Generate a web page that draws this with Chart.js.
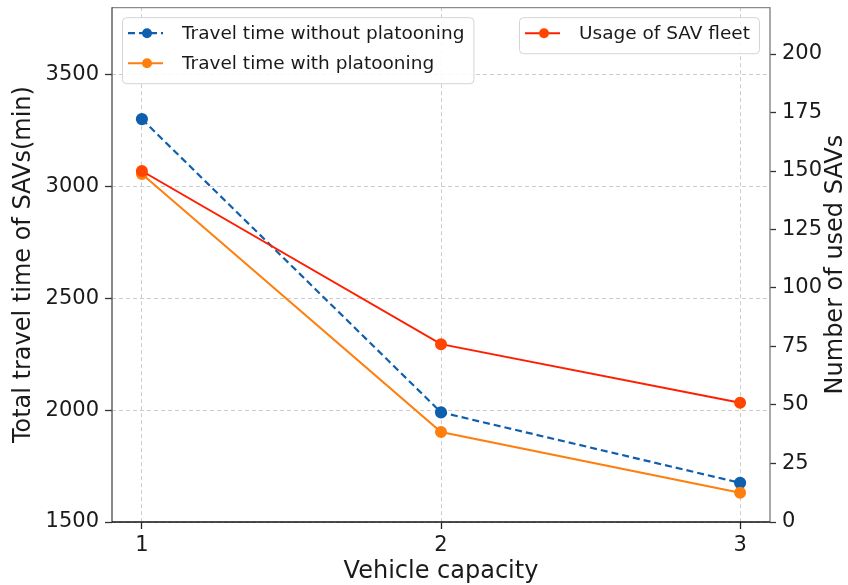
<!DOCTYPE html>
<html>
<head>
<meta charset="utf-8">
<script src="https://cdn.jsdelivr.net/npm/chart.js@4.4.1/dist/chart.umd.min.js"></script>
<style>
  html, body { margin: 0; padding: 0; background: #ffffff; }
  #wrap { width: 848px; height: 585px; }
</style>
</head>
<body>
<div id="wrap"><canvas id="chart" width="848" height="585"></canvas></div>
<script>
// Vehicle capacity on the x axis
const capacities = [1, 2, 3];
// Total travel time of SAVs (min), left axis
const timeWithoutPlatooning = [3300, 1990, 1675];
const timeWithPlatooning = [3055, 1902, 1631];
// Number of used SAVs, right axis
const fleetUsage = [150, 76, 51];
// Tick labels
const leftTicks = [1500, 2000, 2500, 3000, 3500];
const rightTicks = [0, 25, 50, 75, 100, 125, 150, 175, 200];

const FONT = "'DejaVu Sans', 'Liberation Sans', sans-serif";
const TEXT = '#1a1a1a';
const RIGHT_TITLE = 'Number of used SAVs';

const pts = (ys) => capacities.map((x, i) => ({ x, y: ys[i] }));

// Axes frame, the right-hand axis title (read bottom to top) and two framed legends
const framePlugin = {
  id: 'frameAndLegends',
  afterDraw(chart) {
    const { ctx, chartArea: a } = chart;
    ctx.save();
    // spines
    ctx.lineWidth = 1.3;
    ctx.strokeStyle = '#8a8a8a';
    ctx.beginPath(); ctx.moveTo(a.left, a.top + 0.5); ctx.lineTo(a.right, a.top + 0.5); ctx.stroke();
    ctx.strokeStyle = '#7a7a7a';
    ctx.beginPath(); ctx.moveTo(a.right, a.top); ctx.lineTo(a.right, a.bottom); ctx.stroke();
    ctx.strokeStyle = '#4a4a4a';
    ctx.beginPath(); ctx.moveTo(a.left, a.top); ctx.lineTo(a.left, a.bottom); ctx.stroke();
    ctx.strokeStyle = '#111111';
    ctx.lineWidth = 1.6;
    ctx.beginPath(); ctx.moveTo(a.left, a.bottom); ctx.lineTo(a.right, a.bottom); ctx.stroke();

    // right axis title
    ctx.save();
    ctx.translate(836, (a.top + a.bottom) / 2);
    ctx.rotate(-Math.PI / 2);
    ctx.font = `24px ${FONT}`;
    ctx.fillStyle = TEXT;
    ctx.textAlign = 'center';
    ctx.textBaseline = 'middle';
    ctx.fillText(RIGHT_TITLE, 0, 0);
    ctx.restore();

    const byLabel = (l) => chart.data.datasets.find(d => d.label === l);
    const groups = [
      { items: ['Travel time without platooning', 'Travel time with platooning'].map(byLabel), anchor: 'left' },
      { items: ['Usage of SAV fleet'].map(byLabel), anchor: 'right' }
    ];
    ctx.font = `18.5px ${FONT}`;
    const rowH = 30, padTop = 16, textOff = 60, padRight = 9;
    groups.forEach(g => {
      const textW = Math.max(...g.items.map(d => ctx.measureText(d.label).width));
      const w = textOff + textW + padRight;
      const h = g.items.length * rowH + 6;
      const x = g.anchor === 'left' ? a.left + 10 : a.right - 11 - w;
      const y = a.top + 10;
      ctx.beginPath();
      ctx.roundRect(x + 0.5, y + 0.5, w, h, 4);
      ctx.fillStyle = 'rgba(255,255,255,0.85)';
      ctx.fill();
      ctx.strokeStyle = '#d4d4d4';
      ctx.lineWidth = 1;
      ctx.stroke();
      g.items.forEach((d, i) => {
        const cy = y + padTop + i * rowH;
        ctx.strokeStyle = d.borderColor;
        ctx.lineWidth = d.borderWidth;
        ctx.setLineDash(d.borderDash || []);
        ctx.beginPath();
        ctx.moveTo(x + 6, cy); ctx.lineTo(x + 41, cy);
        ctx.stroke();
        ctx.setLineDash([]);
        ctx.beginPath();
        ctx.arc(x + 25, cy, d.pointRadius, 0, Math.PI * 2);
        ctx.fillStyle = d.pointBackgroundColor;
        ctx.fill();
        ctx.fillStyle = TEXT;
        ctx.textBaseline = 'middle';
        ctx.textAlign = 'left';
        ctx.fillText(d.label, x + textOff, cy + 1);
      });
    });
    ctx.restore();
  }
};

const tickFont = { family: FONT, size: 21 };
const titleFont = { family: FONT, size: 24, lineHeight: 1 };

new Chart(document.getElementById('chart'), {
  type: 'line',
  data: {
    datasets: [
      {
        label: 'Usage of SAV fleet',
        data: pts(fleetUsage),
        yAxisID: 'yRight',
        borderColor: '#ff1e00',
        pointBackgroundColor: '#ff4500',
        pointBorderColor: '#ff4500',
        borderWidth: 2,
        pointRadius: 5,
        order: 0
      },
      {
        label: 'Travel time with platooning',
        data: pts(timeWithPlatooning),
        yAxisID: 'yLeft',
        borderColor: '#ff7f0e',
        pointBackgroundColor: '#ff7f0e',
        pointBorderColor: '#ff7f0e',
        borderWidth: 2,
        pointRadius: 5,
        order: 1
      },
      {
        label: 'Travel time without platooning',
        data: pts(timeWithoutPlatooning),
        yAxisID: 'yLeft',
        borderColor: '#0f5fae',
        pointBackgroundColor: '#0f5fae',
        pointBorderColor: '#0f5fae',
        borderWidth: 2.2,
        borderDash: [7, 4],
        pointRadius: 5,
        order: 2
      }
    ]
  },
  options: {
    responsive: false,
    animation: false,
    devicePixelRatio: 1,
    layout: { padding: { top: 7, left: 0, right: 0, bottom: 0 } },
    elements: { line: { tension: 0 }, point: { borderWidth: 0, hoverRadius: 5 } },
    plugins: { legend: { display: false }, tooltip: { enabled: false } },
    scales: {
      x: {
        type: 'linear',
        min: 0.9,
        max: 3.1,
        afterBuildTicks: (s) => { s.ticks = capacities.map(v => ({ value: v })); },
        afterFit: (s) => { s.height = 63; s.paddingLeft = 0; s.paddingRight = 0; },
        ticks: { font: tickFont, color: TEXT, padding: 4, callback: (v) => String(v), maxRotation: 0 },
        grid: { color: '#cccccc', lineWidth: 1, tickLength: 7, tickColor: '#222222', tickBorderDash: [], tickWidth: 1.3 },
        border: { display: false, dash: [4, 3] },
        title: { display: true, text: 'Vehicle capacity', font: titleFont, color: TEXT, padding: { top: 0, bottom: 1 } }
      },
      yLeft: {
        type: 'linear',
        position: 'left',
        min: 1500,
        max: 3800,
        afterBuildTicks: (s) => { s.ticks = leftTicks.map(v => ({ value: v })); },
        afterFit: (s) => { s.width = 112; s.paddingTop = 0; s.paddingBottom = 0; },
        ticks: { font: tickFont, color: TEXT, padding: 6, callback: (v) => String(v) },
        grid: { color: '#cccccc', lineWidth: 1, tickLength: 7, tickColor: '#333333', tickBorderDash: [], tickWidth: 1.3 },
        border: { display: false, dash: [4, 3] },
        title: { display: true, text: 'Total travel time of SAVs(min)', font: titleFont, color: TEXT, padding: { top: 12, bottom: 0 } }
      },
      yRight: {
        type: 'linear',
        position: 'right',
        min: 0,
        max: 220,
        afterBuildTicks: (s) => { s.ticks = rightTicks.map(v => ({ value: v })); },
        afterFit: (s) => { s.width = 78; s.paddingTop = 0; s.paddingBottom = 0; },
        ticks: { font: tickFont, color: TEXT, padding: 6, callback: (v) => String(v) },
        grid: { drawOnChartArea: false, tickLength: 6, tickColor: '#333333', tickWidth: 1.3 },
        border: { display: false },
        title: { display: false }
      }
    }
  },
  plugins: [framePlugin]
});
</script>
</body>
</html>
